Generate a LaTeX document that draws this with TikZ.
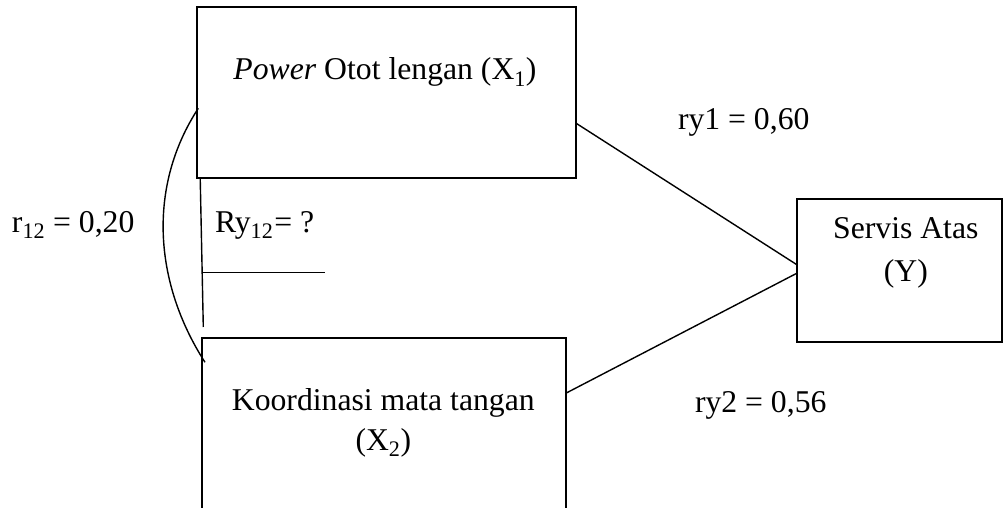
\documentclass[tikz,border=0pt]{standalone}
\usepackage{fontspec}
\setmainfont{Liberation Serif}
\begin{document}
\begin{tikzpicture}[x=1pt,y=-1pt,line width=1.4pt,
  box/.style={draw,rectangle,line width=1.8pt,inner sep=0pt,outer sep=0pt},
  lbl/.style={inner sep=0pt,outer sep=0pt,font=\fontsize{31.7}{40}\selectfont},
  conn/.style={line width=1.4pt}]
\useasboundingbox (0,0) rectangle (1003,508);
\clip (0,0) rectangle (1003,508);
% boxes
\node[box,minimum width=379pt,minimum height=170.4pt] (x1) at (386.2,92.5) {};
\node[box,minimum width=204.7pt,minimum height=142.4pt] (y) at (899.65,270.5) {};
\node[box,minimum width=364pt,minimum height=201.7pt] (x2) at (384,439.15) {};
% box texts
\node[lbl,anchor=base] (tx1) at (385,80) {\textit{Power} Otot lengan (X\textsubscript{1})};
\node[lbl,anchor=base] (tx2a) at (383.3,410) {Koordinasi mata tangan};
\node[lbl,anchor=base] (tx2b) at (383.3,450) {(X\textsubscript{2})};
\node[lbl,anchor=base] (tya) at (905.8,238) {Servis Atas};
\node[lbl,anchor=base] (tyb) at (905.8,281.7) {(Y)};
% labels
\node[lbl,anchor=base west] (l1) at (678,129) {ry1 = 0,60};
\node[lbl,anchor=base west] (l2) at (695,412) {ry2 = 0,56};
\node[lbl,anchor=base west] (l3) at (12,232) {r\textsubscript{12} = 0,20};
\node[lbl,anchor=base west] (l4) at (215,232) {Ry\textsubscript{12}\kern1pt= ?};
% connectors
\draw[conn] ([yshift=-30.5pt]x1.east) -- ([yshift=5.5pt]y.west);
\draw[conn] ([yshift=46pt]x2.east) -- ([yshift=-2.5pt]y.west);
% correlation arc
\draw[conn] ([xshift=1.6pt,yshift=-15.8pt]x1.west) .. controls (147,187) and (154,283) .. ([xshift=3pt,yshift=-24pt]x2.north west);
% multiple correlation bracket
\coordinate (vend) at (203.3,327);
\coordinate (hs) at (203.3,272.7);
\coordinate (he) at (325,272.7);
\draw[conn] ([xshift=3.5pt]x1.south west) -- (vend);
\draw[conn] (hs) -- (he);
\end{tikzpicture}
\end{document}
